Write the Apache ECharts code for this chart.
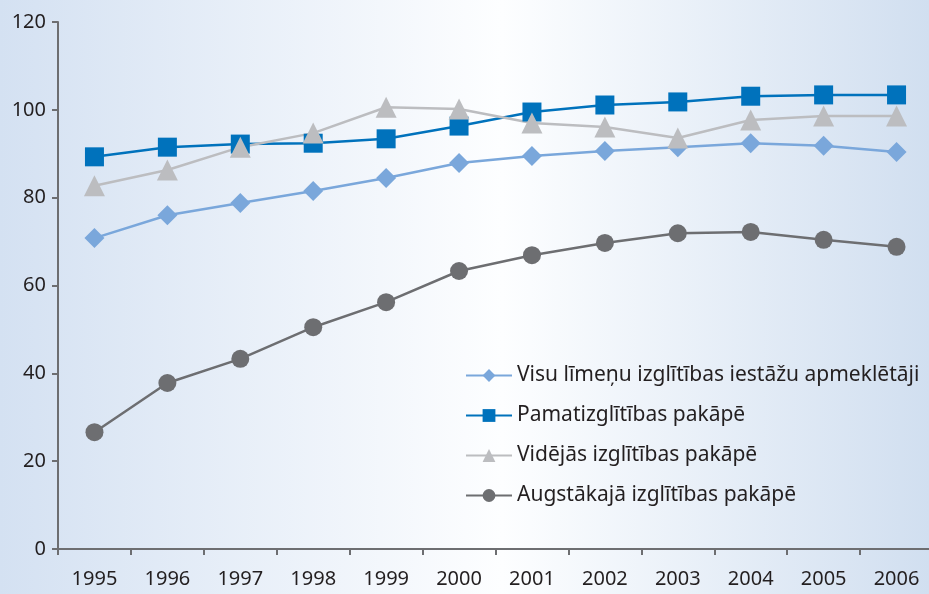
<!DOCTYPE html>
<html>
<head>
<meta charset="utf-8">
<script src="https://cdn.jsdelivr.net/npm/echarts@6/dist/echarts.min.js"></script>
<style>
  html, body { margin: 0; padding: 0; }
  #chart { width: 929px; height: 594px; }
</style>
</head>
<body>
<div id="chart"></div>
<script>
const years = ['1995', '1996', '1997', '1998', '1999', '2000', '2001', '2002', '2003', '2004', '2005', '2006']
const visu = [70.8, 76.0, 78.8, 81.5, 84.5, 87.9, 89.5, 90.6, 91.5, 92.4, 91.8, 90.4]
const pamat = [89.3, 91.5, 92.2, 92.4, 93.4, 96.3, 99.5, 101.1, 101.8, 103.1, 103.4, 103.4]
const videjas = [82.7, 86.3, 91.5, 94.7, 100.6, 100.2, 97.0, 96.1, 93.6, 97.7, 98.6, 98.6]
const augst = [26.6, 37.8, 43.3, 50.5, 56.2, 63.3, 66.9, 69.7, 71.9, 72.2, 70.4, 68.8]

const textColor = '#231f20'
const axisColor = '#6d6e71'
const font = 'Noto Sans'

function lineSeries(name, data, color, symbol, size) {
  return {
    name: name,
    type: 'line',
    data: data,
    symbol: symbol,
    symbolSize: size,
    itemStyle: { color: color },
    lineStyle: { color: color, width: 2.5 },
    z: 3
  }
}

const chart = echarts.init(document.getElementById('chart'))

chart.setOption({
  animation: false,
  backgroundColor: {
    type: 'linear', x: 0, y: 0, x2: 1, y2: 0,
    colorStops: [
      { offset: 0, color: '#d4e1f2' },
      { offset: 0.54, color: '#fdfeff' },
      { offset: 1, color: '#d1dff0' }
    ]
  },
  textStyle: { fontFamily: font },
  grid: { left: 58, right: -4, top: 22, bottom: 45, outerBoundsMode: 'none' },
  legend: {
    orient: 'vertical',
    left: 460,
    top: 360,
    itemWidth: 46,
    itemHeight: 16,
    itemGap: 19,
    textStyle: { fontSize: 21, lineHeight: 21, color: textColor, fontFamily: font }
  },
  xAxis: {
    type: 'category',
    data: years,
    boundaryGap: true,
    axisLine: { lineStyle: { color: axisColor, width: 2 } },
    axisTick: { show: true, length: 6, lineStyle: { color: axisColor, width: 2 } },
    axisLabel: { fontSize: 20, color: textColor, margin: 20, fontFamily: font }
  },
  yAxis: {
    type: 'value',
    min: 0,
    max: 120,
    interval: 20,
    splitLine: { show: false },
    axisLine: { show: true, lineStyle: { color: axisColor, width: 2 } },
    axisTick: { show: true, length: 6, lineStyle: { color: axisColor, width: 2 } },
    axisLabel: { fontSize: 20, color: textColor, margin: 12, fontFamily: font }
  },
  series: [
    lineSeries('Visu līmeņu izglītības iestāžu apmeklētāji', visu, '#7aa7db', 'diamond', 20),
    lineSeries('Pamatizglītības pakāpē', pamat, '#0072bc', 'rect', 19),
    lineSeries('Vidējās izglītības pakāpē', videjas, '#bcbdc0', 'triangle', 21),
    lineSeries('Augstākajā izglītības pakāpē', augst, '#6d6e71', 'circle', 18)
  ]
})
</script>
</body>
</html>
